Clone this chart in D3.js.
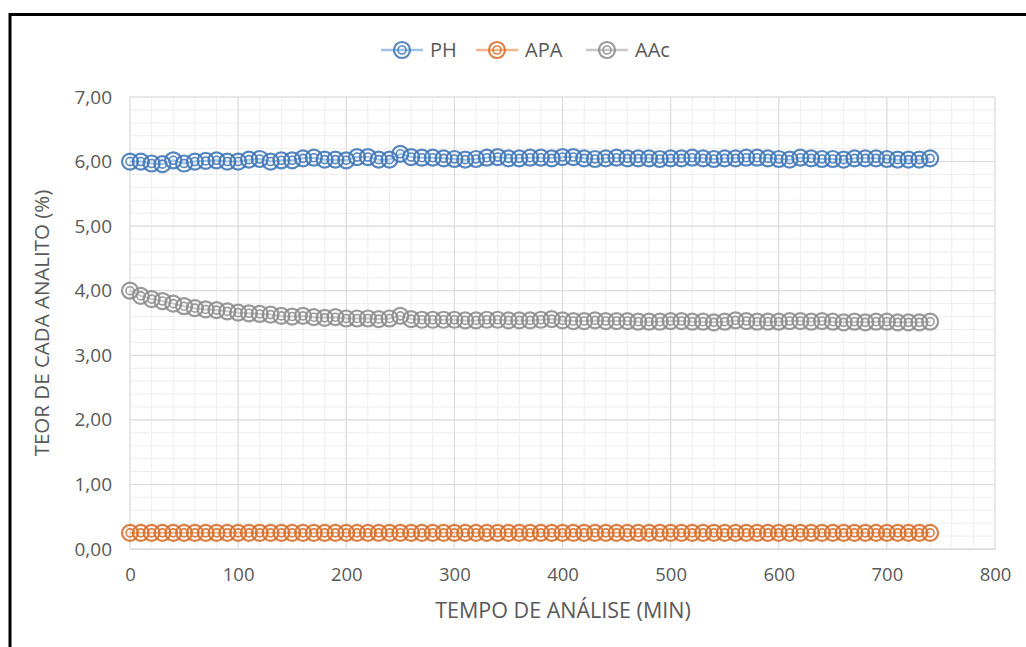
<!DOCTYPE html>
<html><head><meta charset="utf-8">
<script src="https://cdn.jsdelivr.net/npm/d3@7"></script>
<style>body{margin:0;background:#fff;}svg{display:block;}</style>
</head><body>
<svg id="c" width="1026" height="647"></svg>
<script>
const times = d3.range(0, 741, 10);
const phValues = [6.00,6.00,5.97,5.96,6.02,5.97,6.00,6.01,6.02,6.00,6.00,6.03,6.04,6.00,6.02,6.02,6.05,6.06,6.03,6.03,6.02,6.07,6.07,6.03,6.03,6.12,6.07,6.06,6.06,6.05,6.04,6.03,6.04,6.06,6.07,6.05,6.05,6.06,6.06,6.05,6.07,6.07,6.05,6.04,6.05,6.06,6.05,6.05,6.05,6.04,6.05,6.05,6.06,6.05,6.04,6.05,6.05,6.06,6.06,6.05,6.04,6.03,6.06,6.05,6.04,6.04,6.03,6.05,6.05,6.05,6.04,6.03,6.03,6.03,6.05];
const apaValues = [0.25,0.25,0.25,0.25,0.25,0.25,0.25,0.25,0.25,0.25,0.25,0.25,0.25,0.25,0.25,0.25,0.25,0.25,0.25,0.25,0.25,0.25,0.25,0.25,0.25,0.25,0.25,0.25,0.25,0.25,0.25,0.25,0.25,0.25,0.25,0.25,0.25,0.25,0.25,0.25,0.25,0.25,0.25,0.25,0.25,0.25,0.25,0.25,0.25,0.25,0.25,0.25,0.25,0.25,0.25,0.25,0.25,0.25,0.25,0.25,0.25,0.25,0.25,0.25,0.25,0.25,0.25,0.25,0.25,0.25,0.25,0.25,0.25,0.25,0.25];
const aacValues = [4.00,3.92,3.87,3.84,3.80,3.76,3.73,3.71,3.70,3.68,3.66,3.65,3.64,3.63,3.61,3.60,3.61,3.59,3.58,3.59,3.57,3.57,3.57,3.56,3.57,3.61,3.56,3.55,3.55,3.55,3.55,3.54,3.54,3.55,3.55,3.54,3.54,3.54,3.55,3.56,3.54,3.53,3.53,3.54,3.53,3.53,3.53,3.52,3.52,3.52,3.53,3.53,3.52,3.52,3.51,3.52,3.54,3.53,3.52,3.52,3.52,3.53,3.53,3.52,3.53,3.52,3.51,3.52,3.51,3.52,3.52,3.51,3.51,3.51,3.52];
const seriesNames = ["PH","APA","AAc"];
const xTicks = [0,100,200,300,400,500,600,700,800];
const yTicks = [0,1,2,3,4,5,6,7];
const xTitle = "TEMPO DE ANÁLISE (MIN)";
const yTitle = "TEOR DE CADA ANALITO (%)";

const series = [
  {name: seriesNames[0], values: phValues, stroke: "#4279b9", line: "#9ec3e8"},
  {name: seriesNames[1], values: apaValues, stroke: "#d8702c", line: "#f2b48a"},
  {name: seriesNames[2], values: aacValues, stroke: "#8e8e8e", line: "#c8c8c8"}
];

const svg = d3.select("#c");
const font = "'Open Sans', sans-serif";
const txt = "#595959";

// outer frame
svg.append("rect").attr("x", 10).attr("y", 14.5).attr("width", 1030).attr("height", 650)
  .attr("fill", "#fff").attr("stroke", "#000").attr("stroke-width", 3);

const x = d3.scaleLinear().domain([0, 800]).range([130, 995]);
const y = d3.scaleLinear().domain([0, 7]).range([549, 97]);

// minor grid
const g = svg.append("g");
g.selectAll(".mx").data(d3.range(0, 801, 20)).join("line").attr("class", "mx")
  .attr("x1", d => x(d)).attr("x2", d => x(d)).attr("y1", y(0)).attr("y2", y(7))
  .attr("stroke", "#eeeeee").attr("stroke-width", 1);
g.selectAll(".my").data(d3.range(0, 35.1, 1).map(v => v / 5)).join("line")
  .attr("class", "my")
  .attr("x1", x(0)).attr("x2", x(800)).attr("y1", d => y(d)).attr("y2", d => y(d))
  .attr("stroke", "#eeeeee").attr("stroke-width", 1);
// major grid
g.selectAll(".Mx").data(xTicks).join("line").attr("class", "Mx")
  .attr("x1", d => x(d)).attr("x2", d => x(d)).attr("y1", y(0)).attr("y2", y(7))
  .attr("stroke", "#d9d9d9").attr("stroke-width", 1);
g.selectAll(".My").data(yTicks).join("line").attr("class", "My")
  .attr("x1", x(0)).attr("x2", x(800)).attr("y1", d => y(d)).attr("y2", d => y(d))
  .attr("stroke", "#d9d9d9").attr("stroke-width", 1);

// axes via d3
const fmt = d => d3.format(".2f")(d).replace(".", ",");
const yAxis = svg.append("g").attr("transform", `translate(${x(0)},0)`)
  .call(d3.axisLeft(y).tickValues(yTicks).tickFormat(fmt).tickSize(0).tickPadding(18));
yAxis.select(".domain").remove();
yAxis.selectAll("text").attr("fill", txt).style("font-family", font).style("font-size", "19px");

const xAxis = svg.append("g").attr("transform", `translate(0,${y(0)})`)
  .call(d3.axisBottom(x).tickValues(xTicks).tickFormat(d3.format("d")).tickSize(0).tickPadding(19));
xAxis.select(".domain").attr("stroke", "#d9d9d9");
xAxis.selectAll("text").attr("fill", txt).style("font-family", font).style("font-size", "18.5px");

// axis titles
svg.append("text").attr("x", 563).attr("y", 618).attr("text-anchor", "middle")
  .attr("fill", txt).style("font-family", font).style("font-size", "21.5px").text(xTitle);
svg.append("text").attr("transform", `translate(49,${(y(0) + y(7)) / 2}) rotate(-90)`)
  .attr("text-anchor", "middle").attr("fill", txt).style("font-family", font).style("font-size", "20.5px").text(yTitle);

// series
function marker(sel, s) {
  sel.append("circle").attr("r", 8).attr("fill", "none").attr("stroke", s.stroke).attr("stroke-width", 2.2).attr("opacity", 0.9);
  sel.append("circle").attr("r", 4).attr("fill", "none").attr("stroke", s.stroke).attr("stroke-width", 1.6).attr("opacity", 0.9);
}
const line = d3.line().x((d, i) => x(times[i])).y(d => y(d));
series.forEach(s => {
  const sg = svg.append("g");
  sg.append("path").attr("d", line(s.values)).attr("fill", "none").attr("stroke", s.line).attr("stroke-width", 2);
  s.values.forEach((v, i) => {
    const m = sg.append("g").attr("transform", `translate(${x(times[i])},${y(v)})`);
    marker(m, s);
  });
});

// legend
const legendX = [402, 497, 607];
series.forEach((s, i) => {
  const lg = svg.append("g").attr("transform", `translate(${legendX[i]},50)`);
  lg.append("line").attr("x1", -21).attr("x2", 21).attr("y1", 0).attr("y2", 0).attr("stroke", s.line).attr("stroke-width", 2.5);
  marker(lg, s);
  lg.append("text").attr("x", 28).attr("y", 7).attr("fill", txt).style("font-family", font).style("font-size", "20px").text(s.name);
});
</script>
</body></html>
